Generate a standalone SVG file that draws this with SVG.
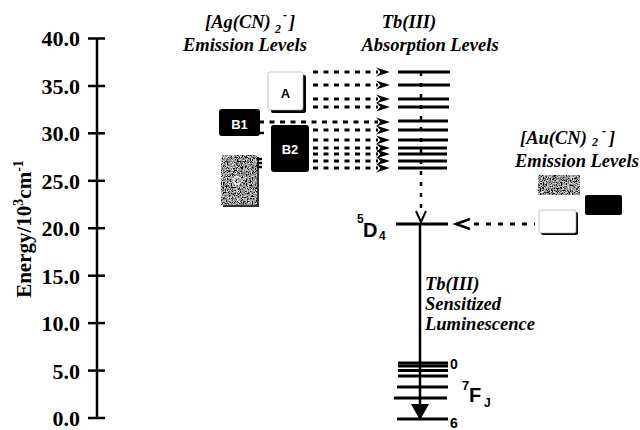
<svg xmlns="http://www.w3.org/2000/svg" xmlns:xlink="http://www.w3.org/1999/xlink" width="640" height="430" viewBox="0 0 640 430">
<style>
.ax{font-family:"Liberation Serif",serif;font-weight:bold;font-size:22px;text-anchor:end}
.hd{font-family:"Liberation Serif",serif;font-weight:bold;font-style:italic;font-size:18.5px}
.sm{font-family:"Liberation Serif",serif;font-weight:bold;font-style:italic;font-size:12px}
.sf{font-family:"Liberation Sans",Arial,sans-serif;font-weight:bold}
.lv{stroke:#000;stroke-width:3;fill:none}
.dl{stroke:#000;stroke-width:3;stroke-dasharray:5 5.5;fill:none}
.ln{stroke:#000;stroke-width:2.5;fill:none}
</style>
<defs>
<filter id="noise" x="0" y="0" width="100%" height="100%">
<feTurbulence type="fractalNoise" baseFrequency="1.2" numOctaves="2" seed="3" result="t"/>
<feColorMatrix in="t" type="matrix" values="1.3 1.3 1.3 0 -1.65  1.3 1.3 1.3 0 -1.65  1.3 1.3 1.3 0 -1.65  0 0 0 0 1" result="g"/>
<feComposite in="g" in2="SourceGraphic" operator="in"/>
</filter>
<path id="ah" d="M0,0 L-14,-4.5 L-9.5,0 L-14,4.5 Z" fill="#000"/>
</defs>
<rect width="640" height="430" fill="#fff"/>

<g id="axis">
<line class="ln" x1="97" y1="38.5" x2="97" y2="419"/>
<g class="ln">
<line x1="88" y1="38.5" x2="105" y2="38.5"/>
<line x1="88" y1="86" x2="105" y2="86"/>
<line x1="88" y1="133.3" x2="105" y2="133.3"/>
<line x1="88" y1="180.8" x2="105" y2="180.8"/>
<line x1="88" y1="228.2" x2="105" y2="228.2"/>
<line x1="88" y1="275.7" x2="105" y2="275.7"/>
<line x1="88" y1="323.1" x2="105" y2="323.1"/>
<line x1="88" y1="370.6" x2="105" y2="370.6"/>
<line x1="88" y1="418" x2="105" y2="418"/>
</g>
<text class="ax" x="80" y="46">40.0</text>
<text class="ax" x="80" y="93.5">35.0</text>
<text class="ax" x="80" y="141">30.0</text>
<text class="ax" x="80" y="188.5">25.0</text>
<text class="ax" x="80" y="236">20.0</text>
<text class="ax" x="80" y="283.5">15.0</text>
<text class="ax" x="80" y="331">10.0</text>
<text class="ax" x="80" y="378.5">5.0</text>
<text class="ax" x="80" y="426">0.0</text>
<text transform="translate(31,229) rotate(-90)" style="font-family:'Liberation Serif',serif;font-weight:bold;font-size:21px;text-anchor:middle">Energy/10<tspan dy="-8" font-size="14">3</tspan><tspan dy="8">cm</tspan><tspan dy="-8" font-size="14">-1</tspan></text>
</g>

<g id="ag-title">
<text class="hd" x="205" y="28">[Ag(CN)</text>
<text class="sm" x="275" y="33">2</text>
<text class="sm" x="283" y="19">-</text>
<text class="hd" x="289" y="28">]</text>
<text class="hd" x="183" y="51">Emission Levels</text>
</g>

<g id="tb-title">
<text class="hd" x="409" y="28" text-anchor="middle">Tb(III)</text>
<text class="hd" x="430" y="51" text-anchor="middle">Absorption Levels</text>
</g>

<g id="au-title">
<text class="hd" x="520" y="144">[Au(CN)</text>
<text class="sm" x="592" y="146" font-size="11">2</text>
<text class="sm" x="602" y="135">-</text>
<text class="hd" x="609" y="144">]</text>
<text class="hd" x="515" y="167">Emission Levels</text>
</g>

<g id="box-A">
<rect x="271" y="75" width="35" height="38" rx="2" fill="#000"/>
<rect x="268" y="72" width="35" height="38" rx="2" fill="#fff" stroke="#aaa" stroke-width="0.7"/>
<text class="sf" x="285.5" y="98" font-size="13" text-anchor="middle">A</text>
</g>

<g id="box-B1">
<rect x="219" y="109" width="41" height="27" rx="3" fill="#000"/>
<text class="sf" x="239.5" y="128.5" font-size="13" text-anchor="middle" fill="#fff">B1</text>
<line x1="259" y1="133" x2="264" y2="133" stroke="#000" stroke-width="2.5"/>
</g>

<g id="box-B2">
<rect x="271" y="125" width="38" height="47" rx="3" fill="#000"/>
<text class="sf" x="290" y="154" font-size="13" text-anchor="middle" fill="#fff">B2</text>
</g>

<g id="box-C">
<rect x="223" y="157" width="36" height="50" fill="#333"/>
<rect x="221" y="155" width="36" height="50" fill="#888" filter="url(#noise)"/>
<text class="sf" x="237" y="185" font-size="13" text-anchor="middle" fill="#eee">C</text>
<g stroke="#000" stroke-width="2.5">
<line x1="257" y1="159" x2="262" y2="159"/>
<line x1="257" y1="163" x2="262" y2="163"/>
<line x1="257" y1="167" x2="262" y2="167"/>
</g>
</g>

<g id="tb-absorption">
<line class="lv" x1="398" y1="72" x2="450" y2="72"/>
<line class="lv" x1="398" y1="85" x2="450" y2="85"/>
<line class="lv" x1="398" y1="99" x2="449" y2="99"/>
<line class="lv" x1="398" y1="107" x2="449" y2="107"/>
<line class="lv" x1="398" y1="121" x2="448" y2="121"/>
<line class="lv" x1="398" y1="130" x2="448" y2="130"/>
<line class="lv" x1="398" y1="140" x2="448" y2="140"/>
<line class="lv" x1="398" y1="148" x2="447" y2="148"/>
<line class="lv" x1="398" y1="154" x2="447" y2="154"/>
<line class="lv" x1="398" y1="161" x2="447" y2="161"/>
<line class="lv" x1="398" y1="168" x2="447" y2="168"/>
</g>

<g id="tb-5D4">
<line class="lv" x1="396" y1="224" x2="448" y2="224"/>
<text class="sf" x="357" y="223" font-size="12">5</text>
<text class="sf" x="363" y="237" font-size="20">D</text>
<text class="sf" x="379" y="240" font-size="12">4</text>
</g>

<g id="tb-7FJ">
<line class="lv" x1="398" y1="363" x2="448" y2="363"/>
<line class="lv" x1="398" y1="366" x2="448" y2="366"/>
<line class="lv" x1="398" y1="370.5" x2="448" y2="370.5"/>
<line class="lv" x1="398" y1="376" x2="448" y2="376"/>
<line class="lv" x1="397" y1="387" x2="448" y2="387"/>
<line class="lv" x1="394" y1="398" x2="447" y2="398"/>
<line class="lv" x1="397" y1="419" x2="448" y2="419"/>
<text class="sf" x="450" y="369" font-size="14">0</text>
<text class="sf" x="450" y="428" font-size="14">6</text>
<text class="sf" x="462" y="390" font-size="13">7</text>
<text class="sf" x="469" y="402" font-size="20">F</text>
<text class="sf" x="484" y="407" font-size="12">J</text>
</g>

<g id="sensitized-label">
<text class="hd" x="425" y="290">Tb(III)</text>
<text class="hd" x="425" y="310">Sensitized</text>
<text class="hd" x="425" y="330">Luminescence</text>
</g>

<g id="au-boxes">
<rect x="538" y="175" width="42" height="20" fill="#888" filter="url(#noise)"/>
<rect x="585" y="195" width="37" height="20" rx="2" fill="#000"/>
<rect x="541" y="212" width="37" height="23" rx="2" fill="#000"/>
<rect x="539" y="210" width="37" height="23" rx="2" fill="#fff" stroke="#aaa" stroke-width="0.7"/>
</g>

<g id="connectors">
<line class="dl" x1="313" y1="72" x2="378" y2="72"/>
<line class="dl" x1="313" y1="85" x2="378" y2="85"/>
<line class="dl" x1="313" y1="99" x2="378" y2="99"/>
<line class="dl" x1="313" y1="107" x2="378" y2="107"/>
<line class="dl" x1="259" y1="122" x2="378" y2="122"/>
<line class="dl" x1="313" y1="130" x2="378" y2="130"/>
<line class="dl" x1="313" y1="140" x2="378" y2="140"/>
<line class="dl" x1="313" y1="148" x2="378" y2="148"/>
<line class="dl" x1="313" y1="154" x2="378" y2="154"/>
<line class="dl" x1="313" y1="161" x2="378" y2="161"/>
<line class="dl" x1="313" y1="168" x2="378" y2="168"/>
<use xlink:href="#ah" x="390" y="72"/>
<use xlink:href="#ah" x="390" y="85"/>
<use xlink:href="#ah" x="390" y="99"/>
<use xlink:href="#ah" x="390" y="107"/>
<use xlink:href="#ah" x="390" y="122"/>
<use xlink:href="#ah" x="390" y="130"/>
<use xlink:href="#ah" x="390" y="140"/>
<use xlink:href="#ah" x="390" y="148"/>
<use xlink:href="#ah" x="390" y="154"/>
<use xlink:href="#ah" x="390" y="161"/>
<use xlink:href="#ah" x="390" y="168"/>
<line x1="421" y1="72" x2="421" y2="212" stroke="#000" stroke-width="2.5" stroke-dasharray="4 7"/>
<polyline points="416,211 421,222 426,211" stroke="#000" stroke-width="2" fill="none"/>
<line x1="420" y1="224" x2="420" y2="408" stroke="#000" stroke-width="2.5"/>
<polygon points="411,404 429,404 420,420" fill="#000"/>
<line x1="474" y1="224" x2="535" y2="224" stroke="#000" stroke-width="3" stroke-dasharray="5 7"/>
<polyline points="470,219 456,224 470,229" stroke="#000" stroke-width="2.5" fill="none"/>
</g>
</svg>
